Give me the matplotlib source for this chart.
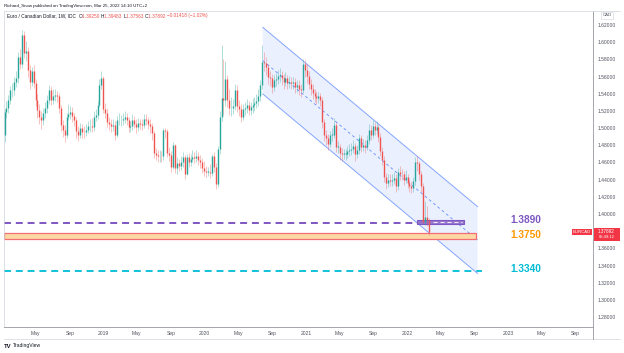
import matplotlib

matplotlib.use("Agg")
import matplotlib.dates as mdates
import matplotlib.pyplot as plt
import numpy as np
import pandas as pd
from matplotlib.lines import Line2D
from matplotlib.patches import Polygon, Rectangle

plt.rcParams["font.family"] = ["Liberation Sans", "DejaVu Sans"]
plt.rcParams["lines.scale_dashes"] = False

# weekly EUR/CAD candles
first_week = "2018-01-08"
first_open = 1.492
closes = [
    1.519, 1.523, 1.533, 1.544, 1.544, 1.554, 1.558, 1.583, 1.575, 1.608,
    1.587, 1.590, 1.568, 1.554, 1.566, 1.552, 1.533, 1.521, 1.513, 1.509,
    1.517, 1.523, 1.533, 1.544, 1.533, 1.537, 1.539, 1.537, 1.523, 1.504,
    1.498, 1.492, 1.513, 1.516, 1.519, 1.514, 1.509, 1.497, 1.492, 1.500,
    1.496, 1.495, 1.498, 1.502, 1.502, 1.501, 1.513, 1.515, 1.527, 1.550,
    1.558, 1.522, 1.518, 1.507, 1.505, 1.502, 1.504, 1.492, 1.509, 1.509,
    1.509, 1.511, 1.513, 1.509, 1.501, 1.502, 1.509, 1.505, 1.501, 1.506,
    1.505, 1.504, 1.511, 1.509, 1.505, 1.502, 1.494, 1.471, 1.469, 1.467,
    1.468, 1.467, 1.498, 1.497, 1.471, 1.469, 1.455, 1.480, 1.453, 1.459,
    1.456, 1.460, 1.466, 1.447, 1.466, 1.460, 1.464, 1.466, 1.465, 1.467,
    1.463, 1.460, 1.453, 1.450, 1.449, 1.449, 1.448, 1.467, 1.455, 1.435,
    1.476, 1.513, 1.535, 1.533, 1.557, 1.533, 1.523, 1.523, 1.526, 1.544,
    1.526, 1.522, 1.513, 1.522, 1.523, 1.527, 1.521, 1.524, 1.527, 1.529,
    1.531, 1.537, 1.550, 1.577, 1.576, 1.571, 1.559, 1.558, 1.548, 1.556,
    1.557, 1.561, 1.562, 1.558, 1.554, 1.558, 1.553, 1.554, 1.552, 1.554,
    1.548, 1.550, 1.545, 1.544, 1.575, 1.568, 1.561, 1.551, 1.546, 1.541,
    1.537, 1.535, 1.537, 1.533, 1.507, 1.492, 1.488, 1.482, 1.492, 1.492,
    1.504, 1.478, 1.478, 1.471, 1.470, 1.470, 1.470, 1.473, 1.475, 1.476,
    1.479, 1.470, 1.474, 1.488, 1.478, 1.480, 1.478, 1.486, 1.498, 1.492,
    1.502, 1.498, 1.501, 1.490, 1.473, 1.463, 1.443, 1.436, 1.440, 1.438,
    1.440, 1.442, 1.432, 1.449, 1.447, 1.446, 1.440, 1.443, 1.436, 1.432,
    1.430, 1.438, 1.461, 1.459, 1.447, 1.432, 1.391, 1.396, 1.3925, 1.37892,
]
highs = [
    1.522, 1.531, 1.538, 1.549, 1.552, 1.560, 1.566, 1.588, 1.592, 1.614,
    1.613, 1.601, 1.594, 1.573, 1.571, 1.574, 1.557, 1.540, 1.528, 1.520,
    1.523, 1.530, 1.538, 1.550, 1.549, 1.545, 1.546, 1.543, 1.541, 1.527,
    1.509, 1.503, 1.518, 1.528, 1.526, 1.524, 1.518, 1.513, 1.502, 1.506,
    1.505, 1.502, 1.505, 1.508, 1.510, 1.512, 1.520, 1.522, 1.531, 1.557,
    1.566, 1.561, 1.529, 1.523, 1.513, 1.510, 1.511, 1.508, 1.514, 1.517,
    1.515, 1.517, 1.520, 1.517, 1.513, 1.508, 1.516, 1.514, 1.510, 1.512,
    1.511, 1.510, 1.516, 1.516, 1.513, 1.510, 1.506, 1.497, 1.477, 1.475,
    1.474, 1.473, 1.500, 1.500, 1.499, 1.478, 1.473, 1.484, 1.482, 1.466,
    1.464, 1.467, 1.472, 1.469, 1.470, 1.471, 1.470, 1.474, 1.472, 1.474,
    1.472, 1.469, 1.465, 1.462, 1.456, 1.455, 1.458, 1.470, 1.472, 1.459,
    1.479, 1.520, 1.597, 1.580, 1.578, 1.562, 1.545, 1.536, 1.534, 1.551,
    1.550, 1.533, 1.528, 1.528, 1.530, 1.534, 1.531, 1.530, 1.535, 1.536,
    1.540, 1.545, 1.556, 1.597, 1.588, 1.583, 1.575, 1.567, 1.563, 1.562,
    1.564, 1.568, 1.570, 1.567, 1.563, 1.565, 1.562, 1.561, 1.560, 1.560,
    1.558, 1.556, 1.556, 1.551, 1.580, 1.580, 1.575, 1.566, 1.557, 1.551,
    1.546, 1.543, 1.542, 1.541, 1.536, 1.511, 1.498, 1.493, 1.497, 1.500,
    1.512, 1.507, 1.485, 1.482, 1.477, 1.476, 1.476, 1.479, 1.481, 1.483,
    1.486, 1.483, 1.480, 1.493, 1.492, 1.487, 1.486, 1.492, 1.505, 1.503,
    1.509, 1.507, 1.508, 1.505, 1.494, 1.478, 1.467, 1.448, 1.446, 1.447,
    1.446, 1.449, 1.447, 1.454, 1.456, 1.452, 1.450, 1.451, 1.447, 1.441,
    1.438, 1.443, 1.466, 1.468, 1.462, 1.450, 1.436, 1.415, 1.409, 1.39483,
]
lows = [
    1.484, 1.512, 1.518, 1.528, 1.536, 1.539, 1.548, 1.553, 1.569, 1.570,
    1.581, 1.578, 1.560, 1.545, 1.549, 1.547, 1.526, 1.512, 1.505, 1.499,
    1.503, 1.512, 1.518, 1.528, 1.527, 1.528, 1.531, 1.530, 1.517, 1.497,
    1.490, 1.484, 1.489, 1.509, 1.511, 1.507, 1.502, 1.488, 1.485, 1.488,
    1.489, 1.488, 1.491, 1.494, 1.496, 1.496, 1.497, 1.508, 1.510, 1.524,
    1.545, 1.517, 1.512, 1.501, 1.498, 1.496, 1.497, 1.486, 1.490, 1.503,
    1.502, 1.504, 1.506, 1.503, 1.495, 1.496, 1.498, 1.500, 1.494, 1.497,
    1.499, 1.498, 1.500, 1.503, 1.499, 1.494, 1.486, 1.465, 1.463, 1.460,
    1.461, 1.461, 1.463, 1.488, 1.466, 1.462, 1.449, 1.452, 1.448, 1.446,
    1.450, 1.451, 1.455, 1.441, 1.445, 1.455, 1.456, 1.460, 1.459, 1.461,
    1.457, 1.453, 1.448, 1.444, 1.443, 1.444, 1.442, 1.444, 1.449, 1.429,
    1.431, 1.470, 1.508, 1.515, 1.526, 1.525, 1.515, 1.514, 1.516, 1.521,
    1.519, 1.514, 1.507, 1.509, 1.515, 1.518, 1.515, 1.515, 1.518, 1.520,
    1.523, 1.526, 1.532, 1.546, 1.567, 1.562, 1.551, 1.549, 1.541, 1.543,
    1.549, 1.551, 1.554, 1.550, 1.546, 1.549, 1.546, 1.547, 1.545, 1.546,
    1.541, 1.542, 1.538, 1.536, 1.541, 1.560, 1.553, 1.545, 1.539, 1.534,
    1.530, 1.528, 1.529, 1.526, 1.500, 1.485, 1.480, 1.474, 1.478, 1.485,
    1.488, 1.472, 1.471, 1.463, 1.462, 1.464, 1.463, 1.465, 1.467, 1.469,
    1.471, 1.462, 1.465, 1.470, 1.472, 1.473, 1.471, 1.474, 1.482, 1.486,
    1.488, 1.492, 1.493, 1.484, 1.467, 1.457, 1.437, 1.429, 1.431, 1.432,
    1.433, 1.435, 1.426, 1.428, 1.440, 1.440, 1.434, 1.436, 1.430, 1.425,
    1.424, 1.425, 1.434, 1.450, 1.440, 1.425, 1.389, 1.387, 1.386, 1.37563,
]

# drawings on the chart
chan_dates = ["2020-07-29", "2022-09-13"]
chan_upper = [1.6173, 1.4085]
chan_lower = [1.5397, 1.3307]

level_vals = [1.3890, 1.3750, 1.3340]
level_texts = ["1.3890", "1.3750", "1.3340"]
band_lo, band_hi = 1.3712, 1.3782
box_lo, box_hi = 1.3883, 1.3935

price_ticks = [1.28, 1.30, 1.32, 1.34, 1.36, 1.40, 1.42, 1.44, 1.46, 1.48,
               1.50, 1.52, 1.54, 1.56, 1.58, 1.60, 1.62]
month_ticks = ["2018-05-01", "2018-09-01", "2019-01-01", "2019-05-01", "2019-09-01",
               "2020-01-01", "2020-05-01", "2020-09-01", "2021-01-01", "2021-05-01",
               "2021-09-01", "2022-01-01", "2022-05-01", "2022-09-01", "2023-01-01",
               "2023-05-01", "2023-09-01"]
month_labels = ["May", "Sep", "2019", "May", "Sep", "2020", "May", "Sep", "2021",
                "May", "Sep", "2022", "May", "Sep", "2023", "May", "Sep"]

GREEN = "#26a69a"
RED = "#ef5350"
LABEL_RED = "#f23645"
PURPLE = "#7e57c2"
ORANGE = "#ff9800"
CYAN = "#00bcd4"
CH_BLUE = "#2962ff"
TEXT = "#131722"
SUBTEXT = "#50535e"
BORDER = "#d1d4dc"
AXLINE = "#9598a1"

W, H = 624, 353


def px(x):
    return x / W


def py(y):
    return 1 - y / H


def dn(s):
    return mdates.date2num(pd.Timestamp(s))


fig = plt.figure(figsize=(W / 100, H / 100), dpi=100, facecolor="white")
ax = fig.add_axes([px(4), py(327), px(593) - px(4), py(11) - py(327)])
ax.set_facecolor("white")
x_left, x_right = dn("2018-01-06"), dn("2023-11-04")
ax.set_xlim(x_left, x_right)
ax.set_ylim(1.2684, 1.6363)

# channel
cx = [dn(d) for d in chan_dates]
ax.add_patch(Polygon(
    [(cx[0], chan_upper[0]), (cx[1], chan_upper[1]), (cx[1], chan_lower[1]), (cx[0], chan_lower[0])],
    closed=True, fc=CH_BLUE, alpha=0.09, ec="none", zorder=1,
))
ax.plot(cx, chan_upper, color=CH_BLUE, alpha=0.55, lw=0.7, zorder=2)
ax.plot(cx, chan_lower, color=CH_BLUE, alpha=0.55, lw=0.7, zorder=2)
mid = [(a + b) / 2 for a, b in zip(chan_upper, chan_lower)]
ax.plot(cx, mid, color=CH_BLUE, alpha=0.7, lw=0.6, dashes=(2, 2), zorder=2)

# horizontal levels
ax.plot([x_left, dn("2022-02-05")], [level_vals[0]] * 2, color=PURPLE, lw=1.4,
        dashes=(5, 3.5), zorder=2)
ax.add_patch(Rectangle((dn("2022-02-05"), box_lo), dn("2022-07-26") - dn("2022-02-05"),
                       box_hi - box_lo, fc="#9575cd", ec=PURPLE, lw=0.8, zorder=2))
ax.plot([dn("2022-04-04"), dn("2022-07-18")], [level_vals[0] + 0.0019] * 2,
        color="#ede7f6", lw=0.8, dashes=(3, 2), zorder=2)
ax.add_patch(Rectangle((x_left, band_lo), dn("2022-09-06") - x_left, band_hi - band_lo,
                       fc="#fcd9a4", ec="#f26d74", lw=0.9, zorder=2))
ax.plot([x_left, dn("2022-09-30")], [level_vals[2]] * 2, color=CYAN, lw=1.3,
        dashes=(5, 3.5), zorder=2)

label_y = [1.3924, 1.3755, 1.3356]
for txt, yv, clr in zip(level_texts, label_y, [PURPLE, ORANGE, CYAN]):
    ax.text(dn("2023-01-11"), yv, txt, color=clr, fontsize=7.3, fontweight="bold",
            va="center", ha="left")

# candles
dates = pd.date_range(first_week, periods=len(closes), freq="7D")
xd = mdates.date2num(dates)
c = np.array(closes)
o = np.array([first_open] + closes[:-1])
up = c >= o
clrs = np.where(up, GREEN, RED)
body_lo = np.minimum(o, c)
body_hi = np.maximum(np.maximum(o, c), body_lo + 0.0008)
ax.vlines(xd, lows, highs, colors=clrs, lw=0.5, alpha=0.5, zorder=3)
ax.vlines(xd, body_lo, body_hi, colors=clrs, lw=1.0, zorder=4)

# axes styling
for side in ["top", "left"]:
    ax.spines[side].set_color(BORDER)
    ax.spines[side].set_linewidth(0.5)
for side in ["bottom", "right"]:
    ax.spines[side].set_color(AXLINE)
    ax.spines[side].set_linewidth(0.6)

ax.yaxis.tick_right()
ax.set_yticks(price_ticks)
ax.set_yticklabels([f"{v:.5f}" for v in price_ticks])
ax.tick_params(axis="y", length=0, pad=3, labelsize=3.6, labelcolor=SUBTEXT)
ax.set_xticks([dn(d) for d in month_ticks])
ax.set_xticklabels(month_labels)
ax.tick_params(axis="x", length=0, pad=3.2, labelsize=3.6, labelcolor=SUBTEXT)

# frame pieces outside the axes
fig.add_artist(Line2D([px(4), px(620)], [py(339)] * 2, color=BORDER, lw=0.5))
fig.add_artist(Line2D([px(593), px(620)], [py(11)] * 2, color=BORDER, lw=0.5))
fig.add_artist(Line2D([px(593)] * 2, [py(327), py(339)], color=AXLINE, lw=0.6))
fig.text(px(607), py(15.5), "CAD", fontsize=3.2, color=SUBTEXT, ha="center", va="center",
         bbox=dict(boxstyle="square,pad=0.35", fc="white", ec=BORDER, lw=0.4))

# last price tags
fig.text(px(582), py(232.2), "EURCAD", fontsize=3.1, color="white", ha="center", va="center",
         bbox=dict(boxstyle="square,pad=0.3", fc=LABEL_RED, ec="none"))
fig.add_artist(Rectangle((px(593.5), py(240.5)), px(619.5) - px(593.5), py(228.3) - py(240.5),
                         transform=fig.transFigure, fc=LABEL_RED, ec="none"))
fig.text(px(606.5), py(231.6), f"{closes[-1]:.5f}", fontsize=3.3, color="white",
         ha="center", va="center")
fig.text(px(606.5), py(237.2), "05:49:12", fontsize=3.0, color="white", ha="center", va="center")

# header and legend line
fig.text(px(3.5), py(5.5), "Richard_Snow published on TradingView.com, Mar 25, 2022 14:10 UTC+2",
         fontsize=3.2, color=TEXT, va="center")
parts = [
    ("Euro / Canadian Dollar, 1W, IDC  ", TEXT), ("O", TEXT), ("1.39250 ", RED),
    ("H", TEXT), ("1.39483 ", RED), ("L", TEXT), ("1.37563 ", RED), ("C", TEXT),
    ("1.37892 ", RED), ("\u22120.01418 (\u22121.02%)", RED),
]
t = fig.text(px(7), py(16), parts[0][0], fontsize=3.45, color=parts[0][1], va="center")
for s, clr in parts[1:]:
    t = ax.annotate(s, xy=(1, 0), xycoords=t, va="bottom", ha="left", fontsize=3.45,
                    color=clr, annotation_clip=False)

fig.text(px(4), py(346), "TV", fontsize=4.2, fontweight="bold", color=TEXT, va="center")
fig.text(px(12.5), py(346), "TradingView", fontsize=3.6, color=TEXT, va="center")

plt.savefig("out.png", dpi=100, facecolor="white")
plt.close()
